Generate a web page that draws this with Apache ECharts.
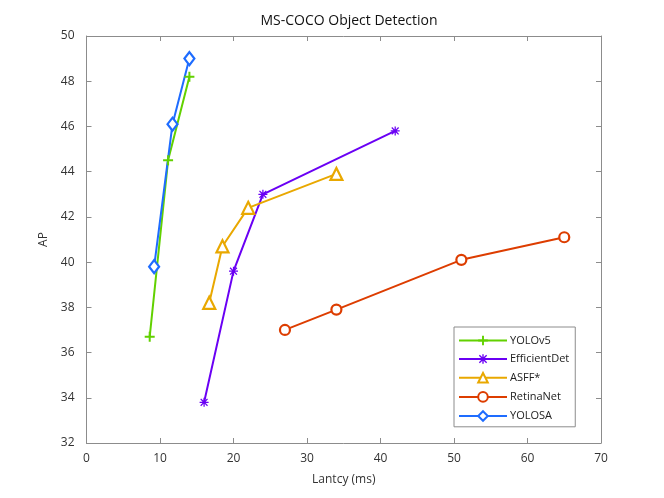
<!DOCTYPE html>
<html>
<head>
<meta charset="utf-8">
<script src="https://cdn.jsdelivr.net/npm/echarts@6/dist/echarts.min.js"></script>
<style>
  html, body { margin: 0; padding: 0; background: #fff; }
  #chart { width: 664px; height: 498px; }
</style>
</head>
<body>
<div id="chart"></div>
<script>
// latency (ms) and AP values
const yolov5Lat = [8.6, 11.1, 14.0];
const yolov5AP = [36.7, 44.5, 48.2];
const effdetLat = [16.0, 20.0, 24.0, 42.0];
const effdetAP = [33.8, 39.6, 43.0, 45.8];
const asffLat = [16.7, 18.5, 22.0, 34.0];
const asffAP = [38.2, 40.7, 42.4, 43.9];
const retinaLat = [27.0, 34.0, 51.0, 65.0];
const retinaAP = [37.0, 37.9, 40.1, 41.1];
const yolosaLat = [9.2, 11.7, 14.0];
const yolosaAP = [39.8, 46.1, 49.0];

const xTicks = [0, 70, 10];
const yTicks = [32, 50, 2];

const pair = (xs, ys) => xs.map((x, i) => [x, ys[i]]);

const plusPath = 'path://M4,0H6V4H10V6H6V10H4V6H0V4H4Z';
const starPath = 'path://M4.3,0H5.7V3.3L8.3,0.7L9.3,1.7L6.7,4.3H10V5.7H6.7L9.3,8.3L8.3,9.3L5.7,6.7V10H4.3V6.7L1.7,9.3L0.7,8.3L3.3,5.7H0V4.3H3.3L0.7,1.7L1.7,0.7L4.3,3.3Z';

let font = 'Open Sans, Noto Sans, sans-serif';

function line(name, color, data, symbol, size, hollow) {
  return {
    name: name,
    type: 'line',
    data: data,
    symbol: symbol,
    symbolSize: size,
    showAllSymbol: true,
    lineStyle: { color: color, width: 2 },
    itemStyle: hollow
      ? { color: '#fff', borderColor: color, borderWidth: 2.2 }
      : { color: color, borderColor: color, borderWidth: 0 },
    emphasis: { disabled: true },
    z: 3
  };
}

let chart = echarts.init(document.getElementById('chart'));
let axisCommon = {
  axisLine: { show: true, onZero: false, lineStyle: { color: '#8c8c8c', width: 1 } },
  axisTick: { show: true, inside: true, length: 5, lineStyle: { color: '#8c8c8c' } },
  splitLine: { show: false },
  axisLabel: { color: '#333', fontFamily: font, fontSize: 12 }
};

let option = {
  animation: false,
  backgroundColor: '#fff',
  title: {
    text: 'MS-COCO Object Detection',
    left: 344,
    textAlign: 'center',
    top: 9,
    textStyle: { fontFamily: font, fontSize: 14, fontWeight: 'normal', color: '#111' }
  },
  grid: { left: 86.5, right: 63, top: 36, bottom: 55 },
  legend: {
    orient: 'vertical',
    left: 454,
    top: 327,
    padding: [8, 6, 5, 4],
    itemWidth: 48,
    itemHeight: 12,
    itemGap: 7.5,
    backgroundColor: '#fff',
    borderColor: '#8c8c8c',
    borderWidth: 1,
    borderRadius: 0,
    textStyle: { fontFamily: font, fontSize: 11, color: '#222', padding: [0, 0, 0, -2] },
    data: ['YOLOv5', 'EfficientDet', 'ASFF*', 'RetinaNet', 'YOLOSA']
  },
  xAxis: [
    Object.assign({}, axisCommon, {
      type: 'value', min: xTicks[0], max: xTicks[1], interval: xTicks[2],
      name: 'Lantcy (ms)', nameLocation: 'middle', nameGap: 31,
      nameTextStyle: { fontFamily: font, fontSize: 12, color: '#333' },
      axisLabel: Object.assign({}, axisCommon.axisLabel, { margin: 10 })
    }),
    Object.assign({}, axisCommon, {
      type: 'value', position: 'top', min: xTicks[0], max: xTicks[1], interval: xTicks[2],
      axisLabel: { show: false }
    })
  ],
  yAxis: [
    Object.assign({}, axisCommon, {
      type: 'value', min: yTicks[0], max: yTicks[1], interval: yTicks[2],
      name: 'AP', nameLocation: 'middle', nameGap: 30,
      nameTextStyle: { fontFamily: font, fontSize: 12, color: '#333' },
      axisLabel: Object.assign({}, axisCommon.axisLabel, { margin: 12 })
    }),
    Object.assign({}, axisCommon, {
      type: 'value', position: 'right', min: yTicks[0], max: yTicks[1], interval: yTicks[2],
      axisLabel: { show: false }
    })
  ],
  series: [
    line('YOLOv5', '#62d100', pair(yolov5Lat, yolov5AP), plusPath, 10, false),
    line('EfficientDet', '#6a00f4', pair(effdetLat, effdetAP), starPath, 9, false),
    line('ASFF*', '#e9a800', pair(asffLat, asffAP), 'triangle', 12, true),
    line('RetinaNet', '#dd3d00', pair(retinaLat, retinaAP), 'circle', 10, true),
    line('YOLOSA', '#1e6cff', pair(yolosaLat, yolosaAP), 'diamond', [10, 13], true)
  ]
};
chart.setOption(option);
</script>
</body>
</html>
